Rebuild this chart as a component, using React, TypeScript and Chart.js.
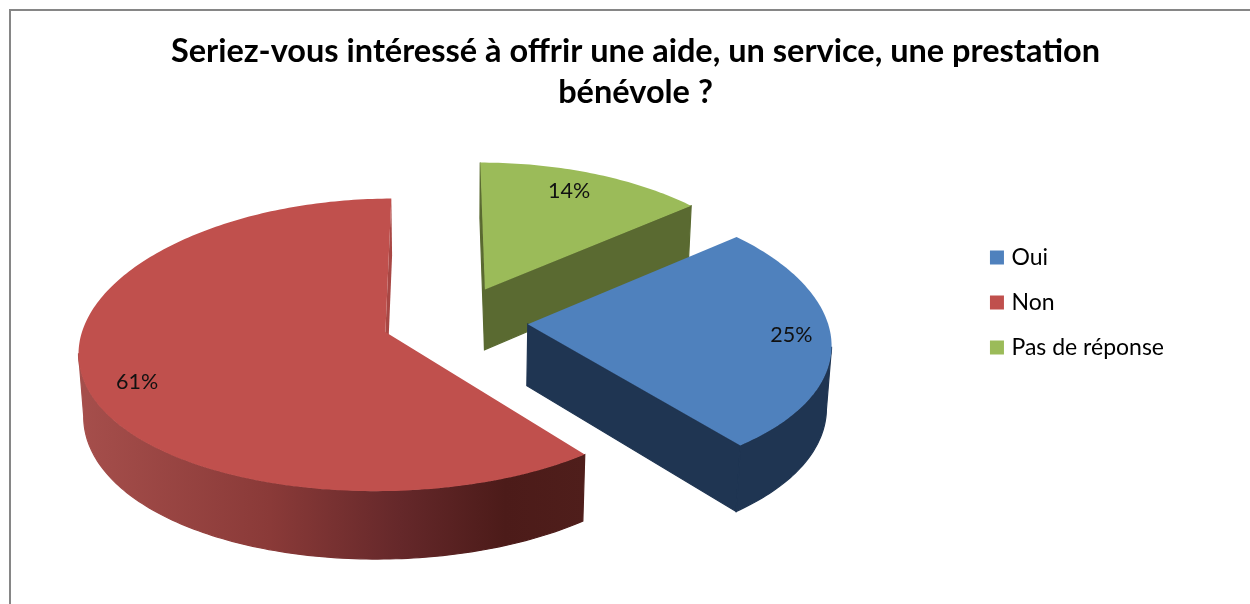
import React, { useEffect, useRef } from "react";
import { Chart, registerables } from "chart.js";

Chart.register(...registerables);

const titleLines = ["Seriez-vous intéressé à offrir une aide, un service, une prestation", "bénévole ?"];
const categories = ["Oui", "Non", "Pas de réponse"];
const percentages = [25.49, 60.5, 14.01];
const topColors = ["#4F81BD", "#C0504D", "#9BBB59"];
const wallColors = ["#1F3552", "#A84744", "#5A6A31"];
const labelRadiusFractions = [0.87, 0.83, 0.76];
const labelNudges = [-2, 9, -9];

// view of the tilted pie
const CX = 455, CY = 320.5, SQUASH = 0.477, PERSPECTIVE = 0.00029, PERSPECTIVE_X = 0.0004, SIDE_TILT = 0.000004, DROP_SHRINK = 0.00022, DEPTH = 61.5;
const FONT = "Lato, 'Noto Sans', sans-serif";

const project = (X: number, Y: number, Z = 0): [number, number] => {
  const w = 1 - PERSPECTIVE * Y + SIDE_TILT * X;
  const wx = 1 - PERSPECTIVE_X * Y + SIDE_TILT * X + DROP_SHRINK * Z;
  return [CX + X / wx, CY + (SQUASH * Y + Z) / w];
};

const fillPoly = (ctx: CanvasRenderingContext2D, pts: [number, number][], style: any, seal = 0) => {
  ctx.beginPath();
  pts.forEach((p, i) => (i ? ctx.lineTo(p[0], p[1]) : ctx.moveTo(p[0], p[1])));
  ctx.closePath();
  ctx.fillStyle = style;
  ctx.fill();
  if (seal) {
    ctx.strokeStyle = style;
    ctx.lineWidth = seal;
    ctx.stroke();
  }
};

const pie3d = {
  id: "pie3d",
  beforeDraw(chart: any) {
    const { ctx } = chart;
    ctx.save();
    ctx.fillStyle = "#FFFFFF";
    ctx.fillRect(0, 0, chart.width, chart.height);
    ctx.fillStyle = "#868686";
    ctx.fillRect(9, 9, chart.width - 9, 2);
    ctx.fillRect(9, 9, 2, chart.height - 9);
    ctx.restore();
  },
  beforeDatasetsDraw(chart: any) {
    const { ctx } = chart;
    const arcs = chart.getDatasetMeta(0).data as any[];
    const redGradient = ctx.createLinearGradient(85, 0, 585, 0);
    redGradient.addColorStop(0, "#A54E4B");
    redGradient.addColorStop(0.37, "#8A3A38");
    redGradient.addColorStop(0.63, "#65282A");
    redGradient.addColorStop(0.84, "#4C1B19");
    redGradient.addColorStop(1, "#4F1E1B");

    const slices = arcs.map((arc, index) => {
      const { startAngle, endAngle, outerRadius } = arc;
      const mid = (startAngle + endAngle) / 2;
      const off = arc.options.offset / 4;
      return { index, startAngle, endAngle, outerRadius, mid, ox: Math.cos(mid) * off, oy: Math.sin(mid) * off };
    }).sort((a, b) => a.oy - b.oy);

    ctx.save();
    for (const s of slices) {
      const rim: [number, number][] = [];
      const steps = Math.ceil(((s.endAngle - s.startAngle) * 180) / Math.PI);
      for (let i = 0; i <= steps; i++) {
        const a = s.startAngle + ((s.endAngle - s.startAngle) * i) / steps;
        rim.push([s.ox + s.outerRadius * Math.cos(a), s.oy + s.outerRadius * Math.sin(a)]);
      }
      const wall = s.index === 1 ? redGradient : wallColors[s.index];
      const apex: [number, number] = [s.ox, s.oy];
      const quad = (a: [number, number], b: [number, number]) => {
        const pa = project(a[0], a[1]), pb = project(b[0], b[1]);
        if (pb[0] < pa[0]) {
          fillPoly(ctx, [pa, pb, project(b[0], b[1], DEPTH), project(a[0], a[1], DEPTH)], wallColors[s.index], s.index === 1 ? 0 : 1.2);
        }
      };
      quad(apex, rim[0]);
      quad(rim[rim.length - 1], apex);
      let run: [number, number][] = [];
      const flush = () => {
        if (run.length > 1) {
          const top = run.map((p) => project(p[0], p[1]));
          const bottom = run.map((p) => project(p[0], p[1], DEPTH)).reverse();
          fillPoly(ctx, [...top, ...bottom], wall, 1.2);
        }
        run = [];
      };
      for (let i = 0; i < rim.length - 1; i++) {
        const pa = project(rim[i][0], rim[i][1]), pb = project(rim[i + 1][0], rim[i + 1][1]);
        if (pb[0] < pa[0]) {
          if (!run.length) run.push(rim[i]);
          run.push(rim[i + 1]);
        } else flush();
      }
      flush();
      fillPoly(ctx, [project(apex[0], apex[1]), ...rim.map((p) => project(p[0], p[1]))], topColors[s.index]);
    }
    ctx.font = `21.5px ${FONT}`;
    ctx.fillStyle = "#111111";
    ctx.textAlign = "center";
    ctx.textBaseline = "middle";
    for (const s of slices) {
      const rr = s.outerRadius * labelRadiusFractions[s.index];
      const [x, y] = project(s.ox + rr * Math.cos(s.mid), s.oy + rr * Math.sin(s.mid));
      ctx.fillText(`${Math.round(percentages[s.index])}%`, x, y + labelNudges[s.index]);
    }
    ctx.restore();
    return false;
  },
};

export default function App() {
  const ref = useRef<HTMLCanvasElement>(null);
  useEffect(() => {
    const chart = new Chart(ref.current!, {
      type: "pie",
      data: {
        labels: categories,
        datasets: [{ data: percentages, backgroundColor: topColors, borderWidth: 0, offset: 292, radius: 300 } as any],
      },
      options: {
        responsive: false,
        animation: false,
        rotation: 50.1,
        layout: { padding: { left: 97, right: 76, top: 31, bottom: 30 } },
        plugins: {
          tooltip: { enabled: false },
          title: {
            display: true,
            text: titleLines,
            color: "#000000",
            padding: 0,
            font: { family: FONT, size: 32.5, weight: "bold", lineHeight: 1.26 },
          },
          legend: {
            position: "right",
            labels: {
              color: "#1A1A1A",
              padding: 22,
              boxWidth: 6,
              boxHeight: 6,
              font: { family: FONT, size: 23 },
              generateLabels: (c: any) =>
                categories.map((text, i) => ({
                  text,
                  fillStyle: topColors[i],
                  strokeStyle: topColors[i],
                  lineWidth: 8,
                  index: i,
                  hidden: false,
                })),
            },
          },
        },
      },
      plugins: [pie3d],
    } as any);
    return () => chart.destroy();
  }, []);
  return (
    <div style={{ position: "absolute", left: 0, top: 0, width: 1250, height: 604 }}>
      <canvas ref={ref} width={1250} height={604} style={{ display: "block" }} />
    </div>
  );
}
